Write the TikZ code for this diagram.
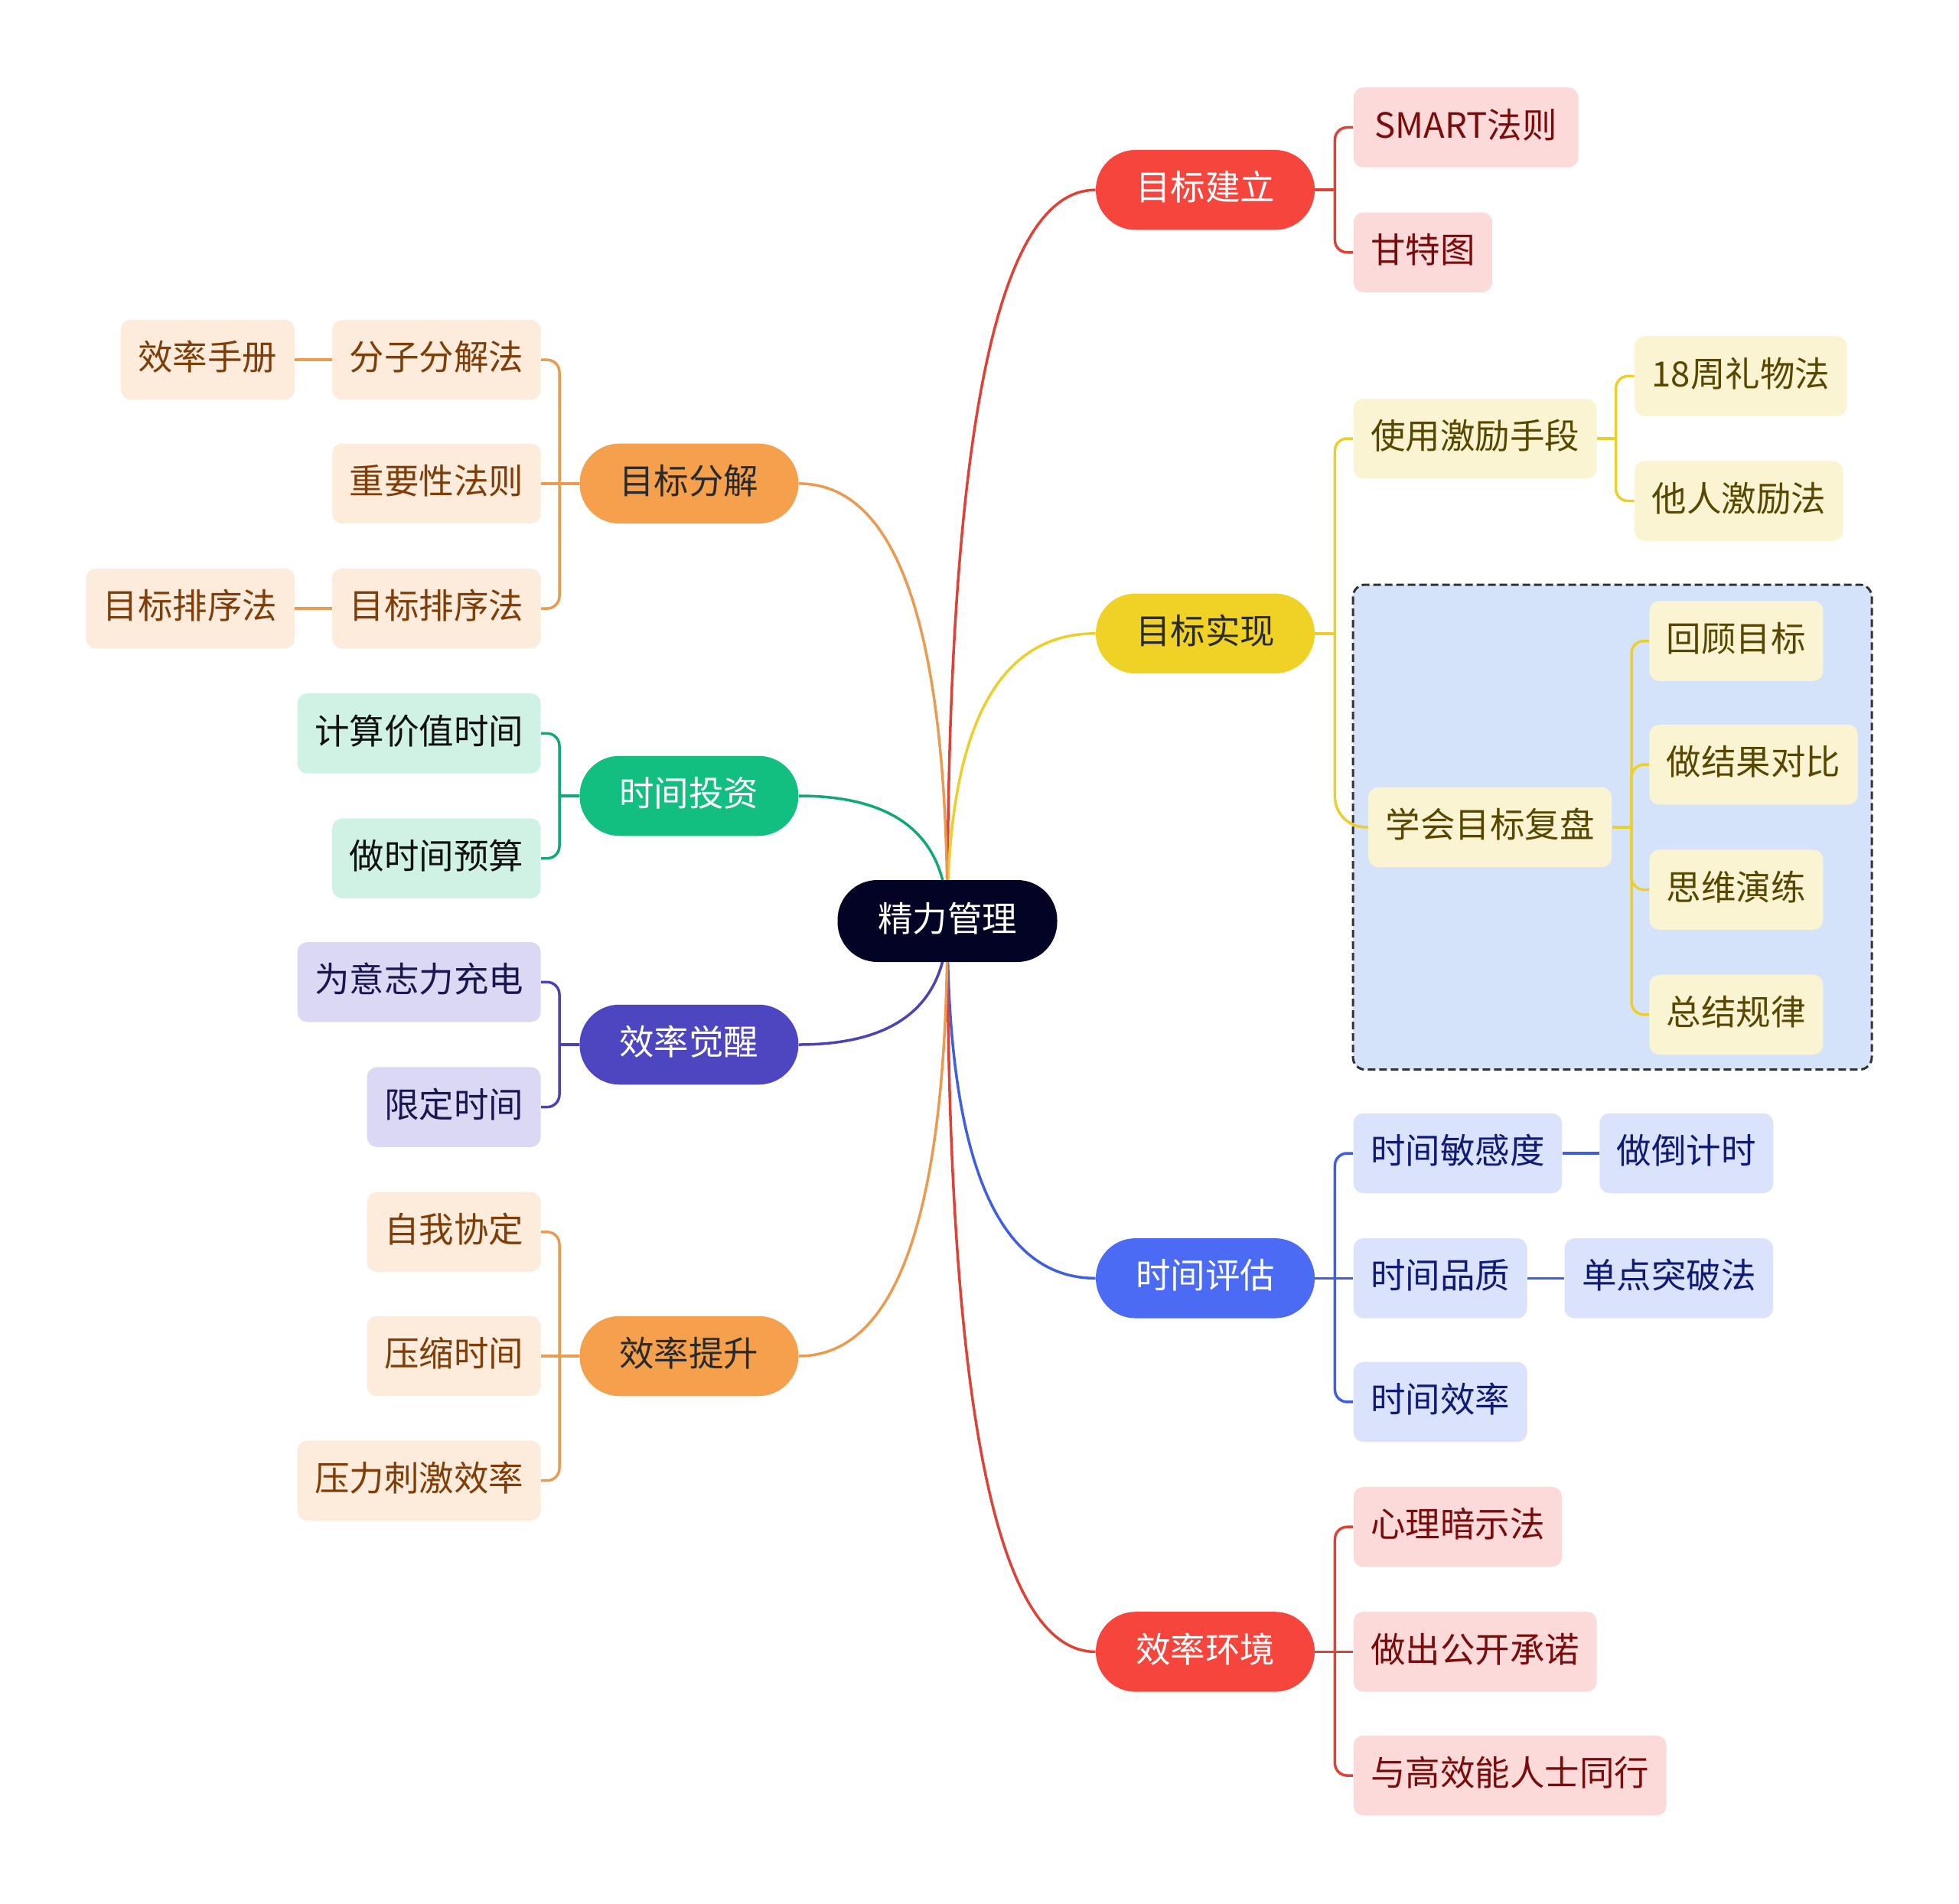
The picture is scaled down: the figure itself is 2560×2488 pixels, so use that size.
\documentclass[tikz,border=0pt]{standalone}
\usepackage{fontspec}
\setmainfont{Noto Sans CJK SC}
\usetikzlibrary{calc}
\pgfdeclarelayer{boxl}
\pgfdeclarelayer{edgel}
\pgfsetlayers{boxl,edgel,main}

\definecolor{rootc}{HTML}{030326}
\definecolor{cRed}{HTML}{F5453D}
\definecolor{cRedLn}{HTML}{DE4236}
\definecolor{cRedL}{HTML}{FDDADA}
\definecolor{cRedT}{HTML}{7A0B0B}
\definecolor{cYel}{HTML}{F0D125}
\definecolor{cYelLn}{HTML}{EDCF2C}
\definecolor{cYelL}{HTML}{FBF4D2}
\definecolor{cYelT}{HTML}{574700}
\definecolor{cBlu}{HTML}{4B6BF5}
\definecolor{cBluLn}{HTML}{3F5FE0}
\definecolor{cBluL}{HTML}{DAE2FC}
\definecolor{cBluT}{HTML}{0F1B75}
\definecolor{cOra}{HTML}{F5A04C}
\definecolor{cOraLn}{HTML}{EA9B50}
\definecolor{cOraL}{HTML}{FDEBDB}
\definecolor{cOraT}{HTML}{7F3E08}
\definecolor{cGrn}{HTML}{12BF80}
\definecolor{cGrnLn}{HTML}{10A874}
\definecolor{cGrnL}{HTML}{CFF2E4}
\definecolor{cGrnT}{HTML}{111111}
\definecolor{cInd}{HTML}{4E45C0}
\definecolor{cIndLn}{HTML}{4A43B5}
\definecolor{cIndL}{HTML}{DAD8F3}
\definecolor{cIndT}{HTML}{1A1650}
\definecolor{darkT}{HTML}{2A2A2A}
\definecolor{boxFill}{HTML}{D5E3FA}
\definecolor{boxLine}{HTML}{333333}

\tikzset{
  base/.style={font=\fontsize{22.75}{27}\selectfont, text height=1.45em, text depth=0.09em,
    inner ysep=0pt, minimum height=52.25pt},
  mainnode/.style={base, rectangle, rounded corners=26pt, minimum width=143pt, inner xsep=0pt},
  subnode/.style={base, rectangle, rounded corners=6.5pt, inner xsep=11.25pt},
  mR/.style={mainnode, fill=cRed, text=white},
  mY/.style={mainnode, fill=cYel, text=darkT},
  mB/.style={mainnode, fill=cBlu, text=white},
  mO/.style={mainnode, fill=cOra, text=darkT},
  mG/.style={mainnode, fill=cGrn, text=white},
  mI/.style={mainnode, fill=cInd, text=white},
  sR/.style={subnode, fill=cRedL, text=cRedT},
  sY/.style={subnode, fill=cYelL, text=cYelT},
  sB/.style={subnode, fill=cBluL, text=cBluT},
  sO/.style={subnode, fill=cOraL, text=cOraT},
  sG/.style={subnode, fill=cGrnL, text=cGrnT},
  sI/.style={subnode, fill=cIndL, text=cIndT},
  lnR/.style={draw=cRedLn, line width=1.75pt},
  lnY/.style={draw=cYelLn, line width=1.75pt},
  lnB/.style={draw=cBluLn, line width=1.75pt},
  lnO/.style={draw=cOraLn, line width=1.75pt},
  lnG/.style={draw=cGrnLn, line width=1.75pt},
  lnI/.style={draw=cIndLn, line width=1.75pt},
  elbow/.style={rounded corners=8pt},
}

\newcommand\rootlink[2]{\draw[#1] (root.center) .. controls ($(root.center)!0.6667!(root.center|-#2)$) and ($(#2)!0.6667!(root.center|-#2)$) .. (#2);}

\begin{document}
\begin{tikzpicture}[x=0.5pt, y=-0.5pt]
\useasboundingbox (0,0) rectangle (2560,2488);

% dashed group box
\begin{pgfonlayer}{boxl}
\draw[fill=boxFill, draw=boxLine, line width=1.5pt, dash pattern=on 5pt off 2.5pt, rounded corners=8pt]
  (1768,764) rectangle (2446,1397.6);
\end{pgfonlayer}

% root
\node[mainnode, fill=rootc, text=white, minimum width=143.5pt, minimum height=53.5pt] (root) at (1238,1203.5) {精力管理};

% right main
\node[mR] (r1) at (1575,248.2) {目标建立};
\node[mY] (r2) at (1575,827.8) {目标实现};
\node[mB] (r3) at (1575,1670.3) {时间评估};
\node[mR] (r4) at (1575,2158.4) {效率环境};

% left main
\node[mO] (l1) at (900.4,631.9) {目标分解};
\node[mG] (l2) at (900.4,1040) {时间投资};
\node[mI] (l3) at (900.4,1365) {效率觉醒};
\node[mO] (l4) at (900.4,1772) {效率提升};

% right subs
\node[sR, anchor=west, minimum width=147pt] (r1a) at (1768.2,166.5) {SMART法则};
\node[sR, anchor=west] (r1b) at (1768.2,329.8) {甘特图};

\node[sY, anchor=west] (r2a) at (1768.2,573) {使用激励手段};
\node[sY, anchor=west] (r2a1) at (2135.6,491.4) {18周礼物法};
\node[sY, anchor=west] (r2a2) at (2135.6,654.7) {他人激励法};
\node[sY, anchor=west] (r2b) at (1787.8,1080.9) {学会目标复盘};
\node[sY, anchor=west] (r2b1) at (2155,837.6) {回顾目标};
\node[sY, anchor=west] (r2b2) at (2155,999.2) {做结果对比};
\node[sY, anchor=west] (r2b3) at (2155,1162.5) {思维演练};
\node[sY, anchor=west] (r2b4) at (2155,1325.8) {总结规律};

\node[sB, anchor=west] (r3a) at (1768.2,1507) {时间敏感度};
\node[sB, anchor=west] (r3a1) at (2089.9,1507) {做倒计时};
\node[sB, anchor=west] (r3b) at (1768.2,1670.3) {时间品质};
\node[sB, anchor=west] (r3b1) at (2044.1,1670.3) {单点突破法};
\node[sB, anchor=west] (r3c) at (1768.2,1831.9) {时间效率};

\node[sR, anchor=west] (r4a) at (1768.2,1995.2) {心理暗示法};
\node[sR, anchor=west] (r4b) at (1768.2,2158.4) {做出公开承诺};
\node[sR, anchor=west] (r4c) at (1768.2,2320.1) {与高效能人士同行};

% left subs
\node[sO, anchor=east] (l1a) at (707,470.2) {分子分解法};
\node[sO, anchor=east] (l1a1) at (385.3,470.2) {效率手册};
\node[sO, anchor=east] (l1b) at (707,631.9) {重要性法则};
\node[sO, anchor=east] (l1c) at (707,795.1) {目标排序法};
\node[sO, anchor=east] (l1c1) at (385.3,795.1) {目标排序法};

\node[sG, anchor=east] (l2a) at (707,958.4) {计算价值时间};
\node[sG, anchor=east] (l2b) at (707,1121.7) {做时间预算};

\node[sI, anchor=east] (l3a) at (707,1283.3) {为意志力充电};
\node[sI, anchor=east] (l3b) at (707,1446.6) {限定时间};

\node[sO, anchor=east] (l4a) at (707,1609.8) {自我协定};
\node[sO, anchor=east] (l4b) at (707,1772) {压缩时间};
\node[sO, anchor=east] (l4c) at (707,1934.7) {压力刺激效率};

\begin{pgfonlayer}{edgel}
% root links
\rootlink{lnR}{r1.west}
\rootlink{lnY}{r2.west}
\rootlink{lnB}{r3.west}
\rootlink{lnR}{r4.west}
\rootlink{lnO}{l1.east}
\rootlink{lnG}{l2.east}
\rootlink{lnI}{l3.east}
\rootlink{lnO}{l4.east}

% r1
\draw[lnR] (r1.east) -- ++(26,0) coordinate (j1);
\draw[lnR, elbow] (j1) |- (r1a.west);
\draw[lnR, elbow] (j1) |- (r1b.west);
% r2
\draw[lnY] (r2.east) -- ++(26,0) coordinate (j2);
\draw[lnY, elbow] (j2) |- (r2a.west);
\draw[lnY, rounded corners=20pt] (j2) |- (r2b.west);
\draw[lnY] (r2a.east) -- ++(24.6,0) coordinate (j2a);
\draw[lnY, elbow] (j2a) |- (r2a1.west);
\draw[lnY, elbow] (j2a) |- (r2a2.west);
\draw[lnY] (r2b.east) -- ++(25.5,0) coordinate (j2b);
\draw[lnY, elbow] (j2b) |- (r2b1.west);
\draw[lnY, elbow] (j2b) |- (r2b2.west);
\draw[lnY, elbow] (j2b) |- (r2b3.west);
\draw[lnY, elbow] (j2b) |- (r2b4.west);
% r3
\draw[lnB] (r3.east) -- (r3b.west);
\coordinate (j3) at ($(r3.east)+(26,0)$);
\draw[lnB, elbow] (j3) |- (r3a.west);
\draw[lnB, elbow] (j3) |- (r3c.west);
\draw[lnB] (r3a.east) -- (r3a1.west);
\draw[lnB] (r3b.east) -- (r3b1.west);
% r4
\draw[lnR] (r4.east) -- (r4b.west);
\coordinate (j4) at ($(r4.east)+(26,0)$);
\draw[lnR, elbow] (j4) |- (r4a.west);
\draw[lnR, elbow] (j4) |- (r4c.west);

% l1
\draw[lnO] (l1.west) -- (l1b.east);
\coordinate (k1) at ($(l1.west)+(-26,0)$);
\draw[lnO, elbow] (k1) |- (l1a.east);
\draw[lnO, elbow] (k1) |- (l1c.east);
\draw[lnO] (l1a.west) -- (l1a1.east);
\draw[lnO] (l1c.west) -- (l1c1.east);
% l2
\draw[lnG] (l2.west) -- ++(-26,0) coordinate (k2);
\draw[lnG, elbow] (k2) |- (l2a.east);
\draw[lnG, elbow] (k2) |- (l2b.east);
% l3
\draw[lnI] (l3.west) -- ++(-26,0) coordinate (k3);
\draw[lnI, elbow] (k3) |- (l3a.east);
\draw[lnI, elbow] (k3) |- (l3b.east);
% l4
\draw[lnO] (l4.west) -- (l4b.east);
\coordinate (k4) at ($(l4.west)+(-26,0)$);
\draw[lnO, elbow] (k4) |- (l4a.east);
\draw[lnO, elbow] (k4) |- (l4c.east);
\end{pgfonlayer}
\end{tikzpicture}
\end{document}
